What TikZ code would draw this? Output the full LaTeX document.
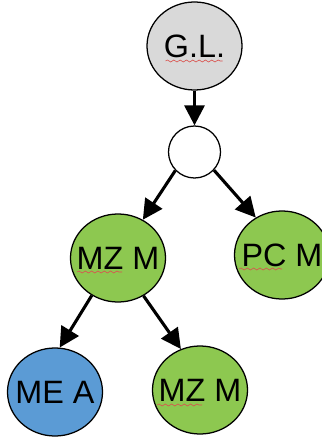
\documentclass[tikz,border=0pt]{standalone}
\usepackage{fontspec}
\setmainfont{Liberation Sans}
\usetikzlibrary{arrows.meta,calc,shapes.geometric,decorations.pathmorphing}
\definecolor{nodegrey}{HTML}{D9D9D9}
\definecolor{nodegreen}{HTML}{8DC850}
\definecolor{nodeblue}{HTML}{5B9BD5}
\definecolor{spellred}{HTML}{D9534F}
\newcommand\unitname[1]{\makebox[0pt]{#1}}
\tikzset{unit/.style={ellipse, draw=black, line width=0.9pt, inner sep=0pt, minimum width=2.375cm, minimum height=2.2cm, font=\fontsize{23}{27}\selectfont}, knot/.style={circle, draw=black, line width=0.9pt, fill=white, minimum size=1.3cm, inner sep=0pt}, link/.style={-{Triangle[length=5mm,width=5mm]}, line width=2.2pt}, spell/.style={decorate, decoration={snake, amplitude=0.7pt, segment length=4.5pt}, draw=spellred, line width=0.45pt}}
\begin{document}
\begin{tikzpicture}[x=0.025cm,y=-0.025cm]
\useasboundingbox (0,0) rectangle (321,438);
% tree of units, root on top
\node[unit,fill=nodegrey] (gl) at (194.5,46) {\unitname{G.L.}};
\node[knot] (split) at (194.5,152) {};
\node[unit,fill=nodegreen] (mzm) at (118,258) {\unitname{MZ M}};
\node[unit,fill=nodegreen] (pcm) at (282,255) {\unitname{PC M}};
\node[unit,fill=nodeblue] (mea) at (55,392) {\unitname{ME A}};
\node[unit,fill=nodegreen] (mzmb) at (200,390) {\unitname{MZ M}};
% connectors
\draw[link] (gl.south) -- (split.north);
\draw[link] (split.224) -- (mzm.57); \draw[link] (split.317) -- (pcm.125);
\draw[link] (mzm.235) -- (mea.84); \draw[link] (mzm.304) -- (mzmb.115);
% wavy underlines
\draw[spell] ($(gl)+(-29,15)$) -- ($(gl)+(28,15)$);
\draw[spell] ($(mzm)+(-41,14)$) -- ($(mzm)+(4,14)$);
\draw[spell] ($(pcm)+(-43,14)$) -- ($(pcm)+(0,14)$);
\draw[spell] ($(mzmb)+(-43,15)$) -- ($(mzmb)+(2,15)$);
\end{tikzpicture}
\end{document}
